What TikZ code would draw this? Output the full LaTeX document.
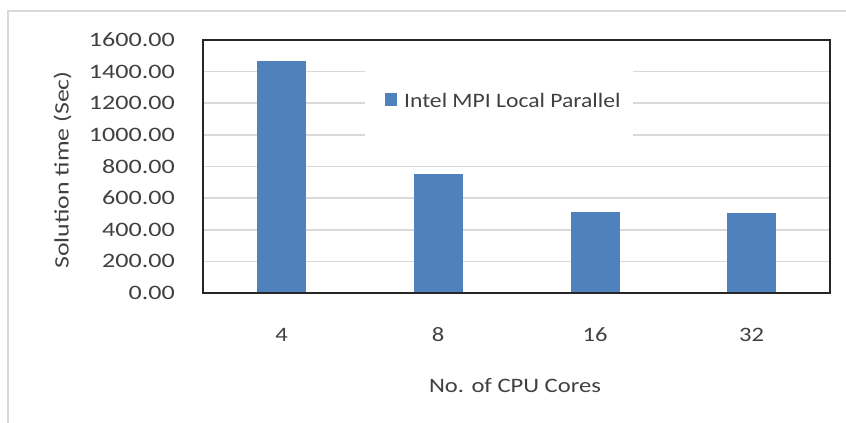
\documentclass[tikz,border=0pt]{standalone}
\usepackage{fontspec}
\setmainfont[FakeStretch=1.2]{Carlito}
\definecolor{txt}{HTML}{404040}
\definecolor{grid}{HTML}{D9D9D9}
\definecolor{bar}{HTML}{4F81BD}
\definecolor{frame}{HTML}{262626}
\begin{document}
\begin{tikzpicture}[x=1pt,y=-1pt,
  lbl/.style={text=txt,font=\fontsize{20.5}{24}\selectfont,inner sep=0pt},
  gridline/.style={grid,line width=1.6pt},
  barfill/.style={fill=bar}]
\useasboundingbox (0,0) rectangle (846,423);
% outer chart border
\draw[grid,line width=1.5pt] (8,423) -- (8,11) -- (846,11);
% gridlines (value v -> y = 293 - v*0.158125)
\foreach \v in {200,400,600,800}{
  \draw[gridline] (203,{293-\v*0.158125}) -- (830,{293-\v*0.158125});
}
\foreach \v in {1000,1200,1400}{
  \draw[gridline] (203,{293-\v*0.158125}) -- (365,{293-\v*0.158125});
  \draw[gridline] (633,{293-\v*0.158125}) -- (830,{293-\v*0.158125});
}
% bars
\foreach \c/\v in {281.5/1465,438/755,595/512,751.5/508}{
  \fill[barfill] (\c-24.5,293) rectangle (\c+24.5,{293-\v*0.158125});
}
% plot frame
\draw[frame,line width=1.6pt] (203,40) rectangle (830,293);
% y tick labels
\foreach \v in {0,200,400,600,800,1000,1200,1400,1600}{
  \node[lbl,anchor=east] at (175,{293-\v*0.158125}) {\scalebox{1.06}[1]{\v.00}};
}
% x tick labels
\node[lbl] (x4) at (281.5,335) {4};
\node[lbl] (x8) at (438,335) {8};
\node[lbl] (x16) at (595,335) {16};
\node[lbl] (x32) at (751.5,335) {32};
% axis titles
\node[lbl] (xt) at (515,386) {No. of CPU Cores};
\node[lbl,rotate=90] (yt) at (62.5,170) {\scalebox{1.05}[1]{Solution time (Sec)}};
% legend
\fill[barfill] (385,93) rectangle (397,106);
\node[lbl,anchor=west] (leg) at (404,100) {\scalebox{0.96}[1]{Intel MPI Local Parallel}};
\end{tikzpicture}
\end{document}
